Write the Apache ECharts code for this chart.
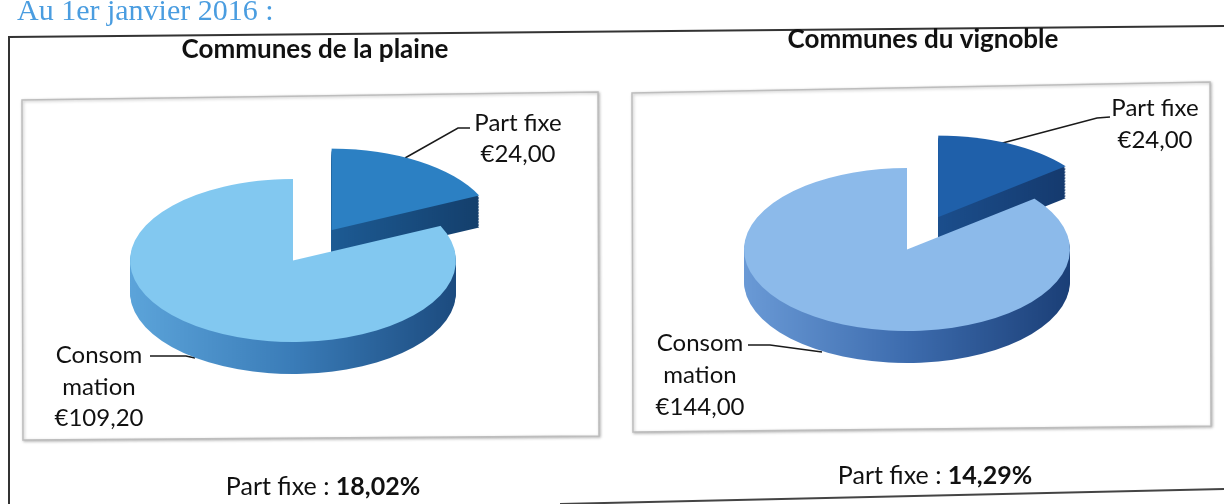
<!DOCTYPE html>
<html><head><meta charset="utf-8">
<script src="https://cdn.jsdelivr.net/npm/echarts@6/dist/echarts.min.js"></script>
<style>
html,body{margin:0;padding:0;background:#fff;overflow:hidden}
#wrap{position:relative;width:1224px;height:504px}
#base{position:absolute;left:0;top:0;width:1224px;height:504px}
#pies{position:absolute;left:0;top:0;width:1224px;height:1008px;transform:scaleY(0.5);transform-origin:0 0}
</style></head>
<body><div id="wrap"><div id="base"></div><div id="pies"></div></div>
<script>
// ---- data ----
const pageHeading = 'Au 1er janvier 2016 :';
const chartTitles = ['Communes de la plaine', 'Communes du vignoble'];
const categories = ['Part fixe', 'Consommation'];
const plaineValues = [24.00, 109.20];
const vignobleValues = [24.00, 144.00];
const summaryLabel = 'Part fixe : ';

// ---- helpers ----
const fmtEuro = v => '\u20ac' + v.toFixed(2).replace('.', ',');
const fmtPct = v => v.toFixed(2).replace('.', ',') + '%';
const share = vals => vals[0] / (vals[0] + vals[1]) * 100;
const labelName = n => n.length > 9 ? n.slice(0, 6) + '\n' + n.slice(6) : n;

const SQ = 0.5;          // vertical squash of the pie layer
const R = 163;           // pie radius (px, horizontal)
const DEPTH = 32;        // 3D thickness in screen px
const FONT = 'Lato, "Open Sans", sans-serif';

const charts = [
  { values: plaineValues, cx: 293, top: 179,
    top1: '#2c80c3', top2: '#82c8f0',
    side1: ['#1d5b94', '#143f6c'],
    side2: ['#5ca4da', '#3a7cb8', '#1c4b7f'] },
  { values: vignobleValues, cx: 907, top: 168,
    top1: '#1f60aa', top2: '#8cbaea',
    side1: ['#1b4e8c', '#153a6e'],
    side2: ['#6a9ad6', '#3d6cae', '#1b3f77'] }
];

function grad(stops) {
  return { type: 'linear', x: 0, y: 0, x2: 1, y2: 0,
    colorStops: stops.map((c, i) => ({ offset: i / (stops.length - 1), color: c })) };
}

function pieSeries(ch, yOff, c1, c2) {
  const cy = (ch.top + R * SQ + yOff) / SQ;
  return {
    type: 'pie', silent: true, animation: false,
    center: [ch.cx, cy], radius: [0, R],
    startAngle: 90, clockwise: true,
    selectedMode: 'single', selectedOffset: 72,
    label: { show: false }, labelLine: { show: false },
    emphasis: { disabled: true },
    data: categories.map((name, i) => {
      const color = i === 0 ? c1 : c2;
      return { name, value: ch.values[i], selected: i === 0,
        itemStyle: { color, borderWidth: 0 },
        select: { itemStyle: { color, borderWidth: 0 } } };
    })
  };
}

const pieList = [];
charts.forEach(ch => {
  for (let k = DEPTH; k >= 1; k -= 1.5) {
    pieList.push(pieSeries(ch, k, grad(ch.side1), grad(ch.side2)));
  }
});
charts.forEach(ch => pieList.push(pieSeries(ch, 0, ch.top1, ch.top2)));

const pies = echarts.init(document.getElementById('pies'), null, { renderer: 'canvas' });
pies.setOption({ animation: false, series: pieList });

// ---- frame, titles, labels ----
const txt = (text, x, y, size, opts = {}) => ({
  type: 'text', x, y, silent: true,
  style: Object.assign({ text, fill: '#111', font: (opts.bold ? 'bold ' : '') + size + 'px ' + FONT,
    textAlign: 'center', textVerticalAlign: 'middle', lineHeight: opts.lh || size * 1.2 }, opts.style || {})
});
const line = (points, w = 1.5, c = '#1a1a1a') => ({
  type: 'polyline', silent: true, shape: { points }, style: { stroke: c, lineWidth: w, fill: null }
});
const box = points => ({
  type: 'polygon', silent: true, shape: { points },
  style: { fill: '#fff', stroke: '#bdbdbd', lineWidth: 1.5, shadowBlur: 3, shadowColor: 'rgba(0,0,0,0.25)', shadowOffsetX: 1, shadowOffsetY: 1 }
});
const summary = (vals, x, y) => ({
  type: 'text', x, y, silent: true,
  style: { text: '{r|' + summaryLabel + '}{b|' + fmtPct(share(vals)) + '}', textAlign: 'center', textVerticalAlign: 'middle',
    rich: { r: { font: '25px ' + FONT, fill: '#111' }, b: { font: 'bold 25px ' + FONT, fill: '#111' } } }
});

const g = [
  txt(pageHeading, 17, 12, 30, { style: { textAlign: 'left', fill: '#4a9de0', font: '30px "Liberation Serif", serif' } }),
  line([[9, 504], [9, 37], [1224, 26]], 2, '#333'),
  line([[560, 504], [1224, 489]], 2, '#444'),
  box([[22, 100], [598, 92], [599, 436], [23, 440]]),
  box([[632, 93], [1210, 82], [1211, 426], [633, 432]]),
  txt(chartTitles[0], 315, 50, 26, { bold: true }),
  txt(chartTitles[1], 923, 40, 26, { bold: true }),
  // Part fixe labels
  txt(categories[0] + '\n' + fmtEuro(plaineValues[0]), 518, 139, 24, { lh: 31 }),
  txt(categories[0] + '\n' + fmtEuro(vignobleValues[0]), 1155, 124, 24, { lh: 32 }),
  // Consommation labels
  txt(labelName(categories[1]) + '\n' + fmtEuro(plaineValues[1]), 99, 387, 24, { lh: 31.5 }),
  txt(labelName(categories[1]) + '\n' + fmtEuro(vignobleValues[1]), 700, 375, 24, { lh: 32 }),
  // leader lines
  line([[470, 128], [458, 128], [405, 158]]),
  line([[1110, 117], [1097, 118], [995, 145]]),
  line([[150, 356], [186, 356], [195, 358]]),
  line([[748, 345], [770, 345], [822, 352]]),
  // summaries
  summary(plaineValues, 323, 487),
  summary(vignobleValues, 935, 476)
];

const base = echarts.init(document.getElementById('base'), null, { renderer: 'canvas' });
base.setOption({ backgroundColor: '#fff', animation: false, graphic: g });
</script>
</body></html>
